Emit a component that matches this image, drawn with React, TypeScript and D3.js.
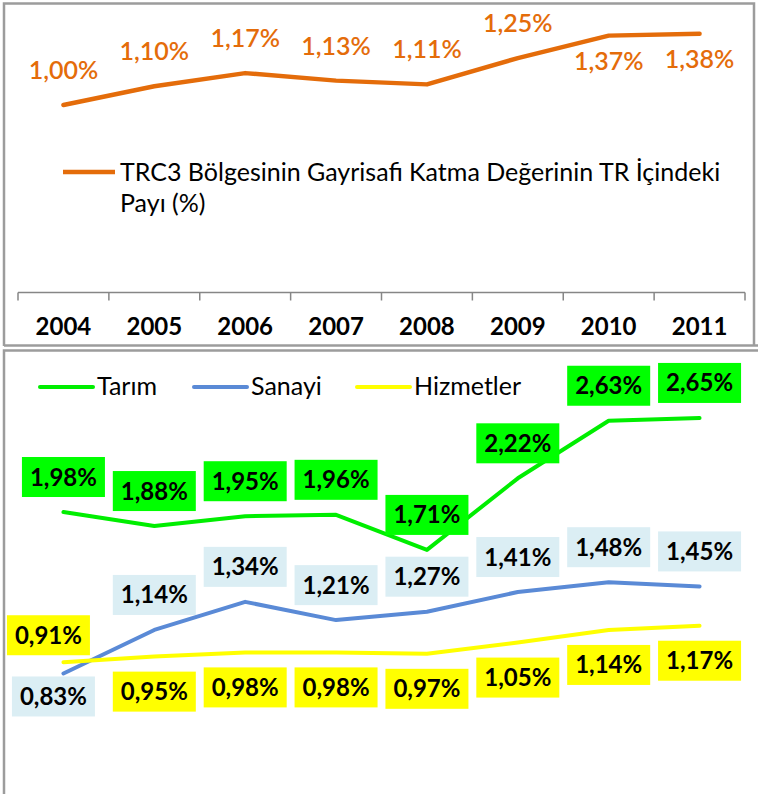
import { useEffect, useRef } from 'react';
import * as d3 from 'd3';

const years = ['2004', '2005', '2006', '2007', '2008', '2009', '2010', '2011'];

// TRC3 share of national gross value added (%)
const gvaShare = [1.0, 1.1, 1.17, 1.13, 1.11, 1.25, 1.37, 1.38];
const gvaLabelSide = ['above', 'above', 'above', 'above', 'above', 'above', 'below', 'below'];

// sector shares (%)
const tarim = [1.98, 1.88, 1.95, 1.96, 1.71, 2.22, 2.63, 2.65];
const sanayi = [0.83, 1.14, 1.34, 1.21, 1.27, 1.41, 1.48, 1.45];
const hizmetler = [0.91, 0.95, 0.98, 0.98, 0.97, 1.05, 1.14, 1.17];

const tarimLabelSide = ['above', 'above', 'above', 'above', 'above', 'above', 'above', 'above'];
const sanayiLabelSide = ['below', 'above', 'above', 'above', 'above', 'above', 'above', 'above'];
const hizmetlerLabelSide = ['above', 'below', 'below', 'below', 'below', 'below', 'below', 'below'];

const fmt = (v: number) => v.toFixed(2).replace('.', ',') + '%';

export default function App() {
  const svgRef = useRef<SVGSVGElement>(null);

  useEffect(() => {
    const svg = d3.select(svgRef.current);
    svg.selectAll('*').remove();

    const font = 'Lato, "Open Sans", sans-serif';
    const frame = '#9c9c9c';

    // panel frames
    const frames = svg.append('g').attr('fill', 'none').attr('stroke', frame).attr('stroke-width', 2.5);
    frames.append('path').attr('d', 'M4,346 L4,3.5 L754,3.5 L754,346');
    frames.append('path').attr('d', 'M4,345.5 L758,345.5');
    frames.append('path').attr('d', 'M758,350.5 L4,350.5 L4,794');

    const x = d3.scaleBand<string>().domain(years).range([18, 745]);
    const cx = (d: string) => (x(d) as number) + x.bandwidth() / 2;

    // ---------- top chart ----------
    const yTop = d3.scaleLinear().domain([0, 1.5]).range([292.5, 11.25]);
    const top = svg.append('g');

    const orange = '#e46c0a';
    const line = d3.line<number>()
      .x((d, i) => cx(years[i]))
      .y(d => yTop(d));

    top.append('path')
      .datum(gvaShare)
      .attr('d', line)
      .attr('fill', 'none')
      .attr('stroke', orange)
      .attr('stroke-width', 4.5)
      .attr('stroke-linecap', 'round')
      .attr('stroke-linejoin', 'round');

    top.selectAll('text.lbl')
      .data(gvaShare)
      .join('text')
      .attr('class', 'lbl')
      .attr('x', (d, i) => cx(years[i]))
      .attr('y', (d, i) => yTop(d) + (gvaLabelSide[i] === 'above' ? -26 : 34))
      .attr('text-anchor', 'middle')
      .attr('fill', orange)
      .style('font-family', font)
      .style('font-size', '25px')
      .style('font-weight', '600')
      .text(d => fmt(d));

    // x axis
    const axisY = yTop(0);
    top.append('line')
      .attr('x1', 18).attr('x2', 745)
      .attr('y1', axisY).attr('y2', axisY)
      .attr('stroke', '#868686').attr('stroke-width', 1.5);

    const bounds = years.map(d => x(d) as number).concat(x.range()[1]);
    top.selectAll('line.tick')
      .data(bounds)
      .join('line')
      .attr('class', 'tick')
      .attr('x1', d => d).attr('x2', d => d)
      .attr('y1', axisY).attr('y2', axisY + 8)
      .attr('stroke', '#868686').attr('stroke-width', 1.5);

    top.selectAll('text.year')
      .data(years)
      .join('text')
      .attr('class', 'year')
      .attr('x', d => cx(d))
      .attr('y', 335)
      .attr('text-anchor', 'middle')
      .attr('fill', '#000')
      .style('font-family', font)
      .style('font-size', '24px')
      .style('font-weight', 'bold')
      .text(d => d);

    // legend
    top.append('line')
      .attr('x1', 63).attr('x2', 115)
      .attr('y1', 172).attr('y2', 172)
      .attr('stroke', orange).attr('stroke-width', 4.5);

    const legText = top.append('text')
      .attr('x', 120)
      .attr('y', 181)
      .attr('fill', '#000')
      .style('font-family', font)
      .style('font-size', '25px');
    legText.append('tspan').attr('x', 120).text('TRC3 Bölgesinin Gayrisafi Katma Değerinin TR İçindeki');
    legText.append('tspan').attr('x', 120).attr('dy', 31).text('Payı (%)');

    // ---------- bottom chart ----------
    const yBot = d3.scaleLinear().domain([0, 3]).range([790, 368.8]);
    const bot = svg.append('g');

    const series = [
      { name: 'Tarım', values: tarim, sides: tarimLabelSide, color: '#00ee00', box: '#00ff00', nudge: [0, 0] },
      { name: 'Sanayi', values: sanayi, sides: sanayiLabelSide, color: '#5a8ad6', box: '#dbeef4', nudge: [-10, -12] },
      { name: 'Hizmetler', values: hizmetler, sides: hizmetlerLabelSide, color: '#ffff00', box: '#ffff00', nudge: [-15, 8] }
    ];

    const line2 = d3.line<number>()
      .x((d, i) => cx(years[i]))
      .y(d => yBot(d));

    series.forEach(s => {
      bot.append('path')
        .datum(s.values)
        .attr('d', line2)
        .attr('fill', 'none')
        .attr('stroke', s.color)
        .attr('stroke-width', 4)
        .attr('stroke-linecap', 'round')
        .attr('stroke-linejoin', 'round');
    });

    const boxW = 83;
    const boxH = 40;
    series.forEach(s => {
      const g = bot.append('g');
      s.values.forEach((v, i) => {
        let bx = cx(years[i]);
        let by = yBot(v) + (s.sides[i] === 'above' ? -35 : 35);
        if (i === 0) {
          bx += s.nudge[0];
          by += s.nudge[1];
        }
        g.append('rect')
          .attr('x', bx - boxW / 2)
          .attr('y', by - boxH / 2)
          .attr('width', boxW)
          .attr('height', boxH)
          .attr('fill', s.box);
        g.append('text')
          .attr('x', bx)
          .attr('y', by + 8.5)
          .attr('text-anchor', 'middle')
          .attr('fill', '#000')
          .style('font-family', font)
          .style('font-size', '24px')
          .style('font-weight', 'bold')
          .text(fmt(v));
      });
    });

    // legend
    const legX = [40, 194, 357];
    series.forEach((s, i) => {
      bot.append('line')
        .attr('x1', legX[i]).attr('x2', legX[i] + 53)
        .attr('y1', 387).attr('y2', 387)
        .attr('stroke', s.color).attr('stroke-width', 4)
        .attr('stroke-linecap', 'round');
      bot.append('text')
        .attr('x', legX[i] + 57)
        .attr('y', 395)
        .attr('fill', '#000')
        .style('font-family', font)
        .style('font-size', '25px')
        .text(s.name);
    });
  }, []);

  return (
    <>
      <style>{'body{margin:0}'}</style>
      <svg ref={svgRef} width={758} height={794} style={{ display: 'block', background: '#fff' }}></svg>
    </>
  );
}
